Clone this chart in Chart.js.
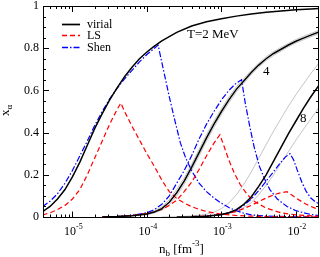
<!DOCTYPE html>
<html><head><meta charset="utf-8">
<script src="https://cdn.jsdelivr.net/npm/chart.js@4/dist/chart.umd.min.js"></script>
<style>html,body{margin:0;padding:0;background:#fff;overflow:hidden}canvas{display:block}</style>
</head><body>
<canvas id="c" width="320" height="257"></canvas>
<script>
// ---- data (log10 of n_b [fm^-3], and mass fraction x_alpha) ----
const virialT2_logn = [-5.4,-5.3,-5.2,-5.1,-5.0,-4.9,-4.8,-4.7,-4.6,-4.5,-4.4,-4.3,-4.2,-4.1,-4.0,-3.9,-3.8,-3.6,-3.4,-3.2,-3.0,-2.8,-2.6,-2.4,-2.2,-2.0,-1.8,-1.69];
const virialT2_x    = [0.025,0.05,0.085,0.13,0.19,0.26,0.34,0.42,0.49,0.555,0.612,0.665,0.71,0.75,0.782,0.81,0.835,0.875,0.905,0.925,0.94,0.952,0.962,0.97,0.976,0.982,0.986,0.988];

const shenT2_logn = [-5.4,-5.3,-5.2,-5.1,-5.0,-4.9,-4.8,-4.7,-4.6,-4.5,-4.4,-4.3,-4.2,-4.1,-4.0,-3.9,-3.85,-3.78,-3.7,-3.62,-3.55,-3.48,-3.4,-3.3,-3.2,-3.1,-3.0,-2.9,-2.8,-2.7,-2.6,-2.4,-2.0,-1.69];
const shenT2_x    = [0.05,0.075,0.11,0.16,0.22,0.29,0.36,0.435,0.5,0.56,0.61,0.655,0.695,0.735,0.77,0.80,0.815,0.70,0.57,0.45,0.35,0.28,0.22,0.16,0.12,0.09,0.065,0.045,0.03,0.018,0.01,0.004,0.001,0.0];

const lsT2_logn = [-5.4,-5.3,-5.2,-5.1,-5.0,-4.9,-4.8,-4.7,-4.6,-4.5,-4.4,-4.35,-4.3,-4.2,-4.1,-4.0,-3.9,-3.8,-3.7,-3.6,-3.5,-3.4,-3.3,-3.2,-3.1,-3.0,-2.8,-2.6,-2.4,-2.0,-1.69];
const lsT2_x    = [0.01,0.02,0.035,0.055,0.085,0.13,0.2,0.28,0.36,0.44,0.51,0.54,0.50,0.43,0.365,0.30,0.24,0.175,0.12,0.088,0.066,0.049,0.036,0.026,0.019,0.014,0.007,0.004,0.002,0.001,0.0];

const virialT4_logn = [-4.6,-4.4,-4.2,-4.0,-3.9,-3.8,-3.7,-3.6,-3.5,-3.4,-3.3,-3.2,-3.1,-3.0,-2.9,-2.8,-2.7,-2.6,-2.5,-2.4,-2.3,-2.2,-2.1,-2.0,-1.9,-1.8,-1.69];
const virialT4_x    = [0.0,0.002,0.006,0.014,0.024,0.04,0.07,0.115,0.17,0.235,0.305,0.375,0.44,0.5,0.555,0.605,0.645,0.685,0.72,0.75,0.775,0.795,0.815,0.833,0.848,0.862,0.877];
const bandT4hi_x    = [0.0,0.003,0.007,0.017,0.029,0.048,0.082,0.13,0.185,0.25,0.32,0.39,0.455,0.514,0.568,0.617,0.656,0.695,0.729,0.759,0.784,0.804,0.823,0.841,0.856,0.87,0.885];
const bandT4lo_x    = [0.0,0.001,0.005,0.011,0.019,0.032,0.058,0.1,0.155,0.22,0.29,0.36,0.425,0.486,0.542,0.593,0.634,0.675,0.711,0.741,0.766,0.786,0.807,0.825,0.84,0.854,0.869];

const shenT4_logn = [-4.6,-4.4,-4.2,-4.0,-3.9,-3.8,-3.7,-3.6,-3.5,-3.4,-3.3,-3.2,-3.1,-3.0,-2.9,-2.8,-2.73,-2.68,-2.62,-2.56,-2.49,-2.42,-2.35,-2.25,-2.12,-2.0,-1.9,-1.8,-1.69];
const shenT4_x    = [0.0,0.003,0.008,0.02,0.035,0.06,0.1,0.16,0.22,0.29,0.37,0.44,0.5,0.555,0.6,0.635,0.65,0.54,0.43,0.33,0.24,0.18,0.13,0.085,0.05,0.03,0.02,0.012,0.006];

const lsT4_logn = [-4.6,-4.4,-4.2,-4.0,-3.9,-3.8,-3.7,-3.6,-3.5,-3.4,-3.3,-3.2,-3.1,-3.02,-2.96,-2.9,-2.83,-2.75,-2.65,-2.55,-2.4,-2.2,-2.0,-1.69];
const lsT4_x    = [0.0,0.002,0.007,0.017,0.025,0.036,0.055,0.08,0.12,0.165,0.225,0.29,0.35,0.39,0.33,0.27,0.21,0.155,0.105,0.072,0.042,0.02,0.01,0.003];

const virialT8_logn = [-3.6,-3.4,-3.2,-3.0,-2.9,-2.8,-2.7,-2.6,-2.5,-2.4,-2.3,-2.2,-2.1,-2.0,-1.9,-1.8,-1.69];
const virialT8_x    = [0.0,0.001,0.004,0.012,0.02,0.035,0.06,0.095,0.145,0.2,0.265,0.33,0.395,0.455,0.515,0.57,0.625];

const bandT8hi_logn = [-3.8,-3.6,-3.4,-3.2,-3.1,-3.0,-2.9,-2.8,-2.7,-2.6,-2.5,-2.4,-2.3,-2.2,-2.1,-2.0,-1.9,-1.8,-1.69];
const bandT8hi_x    = [0.0,0.001,0.005,0.013,0.023,0.04,0.066,0.105,0.155,0.213,0.278,0.343,0.407,0.467,0.526,0.58,0.63,0.68,0.73];
const bandT8lo_logn = [-3.4,-3.2,-3.0,-2.8,-2.7,-2.6,-2.5,-2.4,-2.3,-2.2,-2.1,-2.0,-1.9,-1.8,-1.69];
const bandT8lo_x    = [0.001,0.003,0.009,0.025,0.045,0.068,0.105,0.15,0.2,0.255,0.31,0.365,0.415,0.465,0.52];

const shenT8_logn = [-3.4,-3.2,-3.0,-2.9,-2.8,-2.7,-2.6,-2.5,-2.4,-2.3,-2.2,-2.14,-2.08,-2.03,-1.98,-1.92,-1.86,-1.8,-1.74,-1.69];
const shenT8_x    = [0.0,0.004,0.012,0.02,0.033,0.055,0.085,0.125,0.17,0.215,0.26,0.285,0.30,0.27,0.22,0.165,0.12,0.09,0.072,0.062];

const lsT8_logn = [-3.4,-3.2,-3.0,-2.9,-2.8,-2.7,-2.6,-2.5,-2.4,-2.3,-2.2,-2.12,-2.06,-2.0,-1.9,-1.8,-1.69];
const lsT8_x    = [0.002,0.005,0.012,0.018,0.027,0.04,0.055,0.073,0.09,0.105,0.115,0.12,0.105,0.09,0.068,0.05,0.035];

const yTickValues = [0, 0.2, 0.4, 0.6, 0.8, 1];
const yTickLabels = ['0', '0.2', '0.4', '0.6', '0.8', '1'];
const xTickExponents = [-5, -4, -3, -2];
const xTickLabels = ['-5', '-4', '-3', '-2'];
const legendLabels = ['virial', 'LS', 'Shen'];
const curveLabels = ['T=2 MeV', '4', '8'];

// ---- build ----
const pts = (L, Y) => L.map((l, i) => ({ x: Math.pow(10, l), y: Y[i] }));
const SERIF = '"Liberation Serif","Times New Roman",serif';
const BLACK = '#000000', RED = '#ff0000', BLUE = '#0000ff', GRAY = '#aaaaaa';
const blackStyle = { borderColor: BLACK, borderWidth: 1.5 };
const redStyle = { borderColor: RED, borderWidth: 1.2, borderDash: [5, 3] };
const blueStyle = { borderColor: BLUE, borderWidth: 1.2, borderDash: [6, 2, 1.5, 2] };
const grayStyle = { borderColor: GRAY, borderWidth: 0.7 };

const datasets = [
  { label: 'virial', data: pts(virialT2_logn, virialT2_x), ...blackStyle, order: 0 },
  { label: 'virial T4', data: pts(virialT4_logn, virialT4_x), ...blackStyle, order: 0 },
  { label: 'virial T8', data: pts(virialT8_logn, virialT8_x), ...blackStyle, order: 0 },
  { label: 'LS', data: pts(lsT2_logn, lsT2_x), ...redStyle, order: 1 },
  { label: 'LS T4', data: pts(lsT4_logn, lsT4_x), ...redStyle, order: 1 },
  { label: 'LS T8', data: pts(lsT8_logn, lsT8_x), ...redStyle, order: 1 },
  { label: 'Shen', data: pts(shenT2_logn, shenT2_x), ...blueStyle, order: 2 },
  { label: 'Shen T4', data: pts(shenT4_logn, shenT4_x), ...blueStyle, order: 2 },
  { label: 'Shen T8', data: pts(shenT8_logn, shenT8_x), ...blueStyle, order: 2 },
  { label: 'band T4 hi', data: pts(virialT4_logn, bandT4hi_x), ...grayStyle, order: 3 },
  { label: 'band T4 lo', data: pts(virialT4_logn, bandT4lo_x), ...grayStyle, order: 3 },
  { label: 'band T8 hi', data: pts(bandT8hi_logn, bandT8hi_x), ...grayStyle, order: 3 },
  { label: 'band T8 lo', data: pts(bandT8lo_logn, bandT8lo_x), ...grayStyle, order: 3 },
];

function line(ctx, x1, y1, x2, y2) { ctx.beginPath(); ctx.moveTo(x1, y1); ctx.lineTo(x2, y2); ctx.stroke(); }

const decor = {
  id: 'decor',
  afterDraw(chart) {
    const ctx = chart.ctx, xs = chart.scales.x, ys = chart.scales.y;
    const L = Math.round(xs.left), R = Math.round(xs.right), T = Math.round(ys.top), B = Math.round(ys.bottom);
    ctx.save();
    ctx.setLineDash([]);
    ctx.strokeStyle = '#000'; ctx.lineWidth = 1;
    ctx.strokeRect(L + 0.5, T + 0.5, R - L - 1, B - T);
    // y ticks
    for (let k = 0; k <= 20; k++) {
      const py = Math.round(ys.getPixelForValue(k * 0.05)) + 0.5;
      const len = (k % 4 === 0) ? 6 : 3;
      line(ctx, L, py, L + len, py);
      line(ctx, R, py, R - len, py);
    }
    // x ticks
    for (let e = -6; e <= -1; e++) {
      for (let m = 1; m <= 9; m++) {
        const v = m * Math.pow(10, e);
        if (v < xs.min || v > xs.max) continue;
        const px = Math.round(xs.getPixelForValue(v)) + 0.5;
        const len = m === 1 ? 6 : 3;
        line(ctx, px, B + 0.5, px, B + 0.5 - len);
        line(ctx, px, T, px, T + len);
      }
    }
    ctx.fillStyle = '#000';
    // y labels
    ctx.font = '12px ' + SERIF;
    ctx.textAlign = 'right'; ctx.textBaseline = 'middle';
    yTickValues.forEach((v, i) => ctx.fillText(yTickLabels[i], L - 4, ys.getPixelForValue(v)));
    // x labels 10^e
    ctx.textAlign = 'left'; ctx.textBaseline = 'alphabetic';
    xTickExponents.forEach((e, i) => {
      const px = xs.getPixelForValue(Math.pow(10, e));
      ctx.font = '12px ' + SERIF; const w1 = ctx.measureText('10').width;
      ctx.font = '8px ' + SERIF; const w2 = ctx.measureText(xTickLabels[i]).width;
      const x0 = px - (w1 + w2) / 2 + 1;
      ctx.font = '12px ' + SERIF; ctx.fillText('10', x0, 235);
      ctx.font = '8px ' + SERIF; ctx.fillText(xTickLabels[i], x0 + w1, 229);
    });
    // x title: n_b [fm^-3]
    let x = 159;
    ctx.font = '13px ' + SERIF; ctx.fillText('n', x, 253); x += ctx.measureText('n').width;
    ctx.font = '9px ' + SERIF; ctx.fillText('b', x, 256); x += ctx.measureText('b').width;
    ctx.font = '13px ' + SERIF; ctx.fillText(' [fm', x, 253); x += ctx.measureText(' [fm').width;
    ctx.font = '9px ' + SERIF; ctx.fillText('-3', x, 246); x += ctx.measureText('-3').width;
    ctx.font = '13px ' + SERIF; ctx.fillText(']', x, 253);
    // y title: x_alpha (rotated)
    ctx.save();
    ctx.translate(9, 116); ctx.rotate(-Math.PI / 2);
    ctx.font = '13px ' + SERIF; ctx.fillText('x', 0, 0); const wx = ctx.measureText('x').width;
    ctx.font = '9px ' + SERIF; ctx.fillText('\u03b1', wx, 3);
    ctx.restore();
    // legend
    const styles = [blackStyle, redStyle, blueStyle];
    const ly = [24.5, 35.5, 47.5];
    styles.forEach((s, i) => {
      ctx.strokeStyle = s.borderColor; ctx.lineWidth = s.borderWidth + 0.2;
      ctx.setLineDash(s.borderDash || []);
      line(ctx, 62, ly[i], 80, ly[i]);
    });
    ctx.setLineDash([]);
    ctx.fillStyle = '#000';
    ctx.font = '12px ' + SERIF; ctx.textBaseline = 'middle';
    legendLabels.forEach((t, i) => ctx.fillText(t, 87, ly[i]));
    // curve labels
    ctx.textBaseline = 'alphabetic';
    ctx.font = '13px ' + SERIF; ctx.fillText(curveLabels[0], 187, 38);
    ctx.fillText(curveLabels[1], 263, 75);
    ctx.fillText(curveLabels[2], 300, 122);
    ctx.restore();
  }
};

new Chart(document.getElementById('c'), {
  type: 'line',
  data: { datasets },
  options: {
    responsive: false, animation: false, devicePixelRatio: 1,
    layout: { padding: { left: 43, right: 1, top: 6, bottom: 40 } },
    elements: { point: { radius: 0 }, line: { tension: 0, fill: false } },
    plugins: { legend: { display: false }, tooltip: { enabled: false } },
    scales: {
      x: { type: 'logarithmic', min: 4.03e-6, max: 0.0204, display: false },
      y: { type: 'linear', min: 0, max: 1, display: false }
    }
  },
  plugins: [decor]
});
</script></body></html>
